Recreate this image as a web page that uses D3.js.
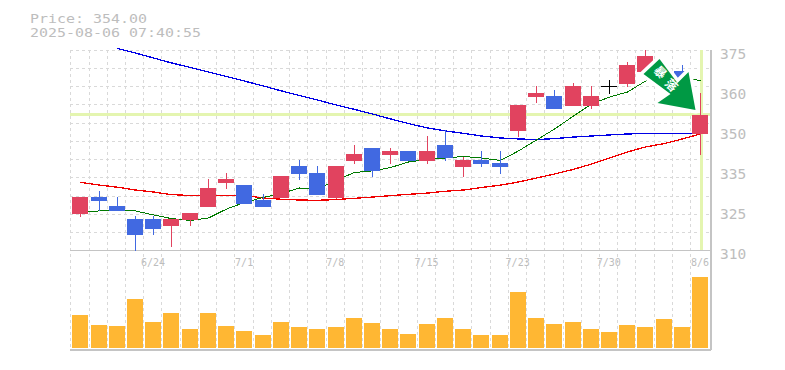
<!DOCTYPE html>
<html>
<head>
<meta charset="utf-8">
<script src="https://cdn.jsdelivr.net/npm/d3@7"></script>
<style>
html,body{margin:0;padding:0;background:#fff;overflow:hidden}
svg{display:block}
text{font-family:"DejaVu Sans Mono",monospace}
</style>
</head>
<body>
<svg id="chart" width="785" height="370"></svg>
<script>
const dates=["6/18","6/19","6/20","6/23","6/24","6/25","6/26","6/27","6/30","7/1","7/2","7/3","7/4","7/7","7/8","7/9","7/10","7/11","7/14","7/15","7/16","7/17","7/18","7/22","7/23","7/24","7/25","7/28","7/29","7/30","7/31","8/1","8/4","8/5","8/6"];
const dateTicks=["6/24","7/1","7/8","7/15","7/23","7/30","8/6"];
const priceTicks=[375,362,349,336,323,310];
const priceLabels=["375","360","350","335","325","310"];
const gridPrices=[375,369.1,363.2,357.3,351.4,345.5,339.5,333.6,327.7,321.8,315.9,310];
const lastPrice=354;
const header=["Price: 354.00","2025-08-06 07:40:55"];
const signalText=["暴","落"];

const opens =[321.7,327.2,324.3,320.1,320.1,317.8,319.75,324,331.8,331.1,326.25,326.9,337.3,335,326.9,338.9,343.15,340.9,342.2,338.9,344.1,337,339.25,338.3,348.7,359.7,360.05,356.8,356.8,363.3,363.95,367.85,364.6,368.2,347.7];
const closes=[327.2,325.9,322.7,314.9,316.8,320.1,322,330.15,333.1,324.95,324,334.05,334.7,327.9,337.3,341.2,335.7,342.2,338.9,342.2,339.9,339.25,337.95,337,357.1,361,355.8,363.3,360.05,363.3,370.1,373.05,366.55,362,354];
const highs =[327.2,329.2,327.2,321.05,321.05,320.1,322,333.1,335,331.1,328.2,334.05,339.25,337.3,337.3,344.1,343.15,343.15,342.2,347.05,349,340.2,342.2,342.2,357.1,363.3,362,364.3,363.3,365.25,371.1,375,367.85,370.1,361];
const lows  =[320.7,322.7,322.7,309.7,314.9,311,317.8,324,329.8,324.95,324,326.9,332.75,327.9,326.6,337.95,333.7,337.95,338.9,337.95,338.9,333.7,337,334.7,346.7,357.8,355.8,356.8,355.8,360.7,363,367.85,363.3,362,340.9];

const maShort=[322.35,322.7,323.2,322.7,321.4,320.2,319.6,320.4,323.3,325.45,327.1,328.4,330.15,329.7,332.75,335.2,335.7,336.8,338.6,339.4,339.9,340.4,339.9,339.1,342.2,345.75,349.3,353.55,357.45,359.7,361.35,364.9,367.85,366.2,365];
const maLong =[null,null,375.5,374,372.4,370.8,369.3,367.85,366.4,364.9,363.3,361.7,360.2,358.75,357.1,355.7,354.2,352.6,351.1,349.65,348.7,347.9,347.05,346.4,346.1,345.9,346.2,346.7,347.05,347.4,347.7,347.9,347.9,347.9,347.9];
const maMid  =[332,331.1,330.4,329.5,328.85,328,327.7,327.7,327.7,327.7,326.9,326.5,326.25,326.15,326.4,326.8,327.2,327.65,328.1,328.5,329.1,329.5,330.3,331.1,332.1,333.4,334.7,336.2,337.95,339.9,341.85,343.5,344.6,346.1,347.7];
const volumes=[33,23,22,49,26,35,19,35,22,17,13,26,21,19,21,30,25,19,14,24,30,19,13,13,56,30,24,26,19,16,23,21,29,21,71];

const svg=d3.select("#chart");
const x=d3.scaleBand().domain(dates).range([70.3,708.4]).paddingInner(0).paddingOuter(0).align(0);
const y=d3.scaleLinear().domain([310,375]).range([250,50]);
const yv=d3.scaleLinear().domain([0,98]).range([348,250]);
const bodyW=16, inset=2;
const cx=d=>Math.round(x(d)+inset+bodyW/2)+0.5;
const red="#e1435f", blue="#4169e1", orange="#ffb733", gridC="#d9d9d9", frame="#c4c4c4", textC="#bdbdbd", hl="#e4f5b0";

// grid
const g=svg.append("g").attr("shape-rendering","crispEdges");
g.selectAll("line.v").data(dates).join("line").attr("class","v")
 .attr("x1",d=>Math.round(x(d))+0.5).attr("x2",d=>Math.round(x(d))+0.5)
 .attr("y1",50).attr("y2",350).attr("stroke",gridC).attr("stroke-dasharray","3 3");
g.selectAll("line.h").data(gridPrices).join("line").attr("class","h")
 .attr("x1",70).attr("x2",710).attr("y1",d=>Math.round(y(d))+0.5).attr("y2",d=>Math.round(y(d))+0.5)
 .attr("stroke",gridC).attr("stroke-dasharray","3 3");

// highlight lines
g.append("line").attr("x1",70).attr("x2",710).attr("y1",y(lastPrice)).attr("y2",y(lastPrice)).attr("stroke",hl).attr("stroke-width",3);
g.append("line").attr("x1",cx(dates[34])+0.5).attr("x2",cx(dates[34])+0.5).attr("y1",50).attr("y2",250).attr("stroke",hl).attr("stroke-width",3);

// frame
g.append("line").attr("x1",70).attr("x2",710).attr("y1",250.5).attr("y2",250.5).attr("stroke",frame).attr("stroke-width",1.5);
g.append("line").attr("x1",70).attr("x2",711).attr("y1",349.5).attr("y2",349.5).attr("stroke",frame).attr("stroke-width",2);
g.append("line").attr("x1",710.5).attr("x2",710.5).attr("y1",50).attr("y2",350).attr("stroke",frame).attr("stroke-width",2);

// volume
g.selectAll("rect.vol").data(volumes).join("rect").attr("class","vol")
 .attr("x",(d,i)=>Math.round(x(dates[i])+inset)).attr("width",bodyW)
 .attr("y",d=>yv(d)).attr("height",d=>yv(0)-yv(d)).attr("fill",orange);

// moving averages
const lineOf=d3.line().defined(d=>d[1]!=null).x(d=>cx(d[0])).y(d=>y(d[1]));
[[maLong,"#0000e6",1.3],[maMid,"#f00000",1.3],[maShort,"#007a00",1]].forEach(([s,c,w])=>{
  svg.append("path").attr("d",lineOf(dates.map((k,i)=>[k,s[i]])))
   .attr("fill","none").attr("stroke",c).attr("stroke-width",w).attr("shape-rendering","crispEdges");
});

// candles
const candles=svg.append("g").attr("shape-rendering","crispEdges");
const colour=i=>closes[i]===opens[i]?"#000":(closes[i]>opens[i]?red:blue);
dates.forEach((k,i)=>{
  candles.append("line").attr("x1",cx(k)).attr("x2",cx(k)).attr("y1",y(highs[i])).attr("y2",y(lows[i])).attr("stroke",colour(i));
  const top=y(Math.max(opens[i],closes[i])), bot=y(Math.min(opens[i],closes[i]));
  if(bot-top<0.5){
    candles.append("line").attr("x1",Math.round(x(k)+inset)).attr("x2",Math.round(x(k)+inset)+bodyW).attr("y1",top).attr("y2",top).attr("stroke",colour(i));
  }else{
    candles.append("rect").attr("x",Math.round(x(k)+inset)).attr("width",bodyW).attr("y",top).attr("height",bot-top).attr("fill",colour(i));
  }
});

// axes
const yAxis=d3.axisRight(y).tickValues(priceTicks).tickSize(0).tickPadding(0).tickFormat((d,i)=>priceLabels[i]);
const ya=svg.append("g").attr("transform","translate(720,0)").call(yAxis);
ya.select(".domain").remove();
ya.selectAll("text").attr("font-size",14.5).attr("fill",textC).attr("dy",0).attr("y",8).style("font-family",'"DejaVu Sans Mono",monospace');

const xAxis=d3.axisBottom(d3.scalePoint().domain(dates).range([cx(dates[0]),cx(dates[34])])).tickValues(dateTicks).tickSize(0).tickPadding(0);
const xa=svg.append("g").attr("transform","translate(-1,0)").call(xAxis);
xa.select(".domain").remove();
xa.selectAll("text").attr("font-size",10).attr("fill",textC).attr("dy",0).attr("y",266).style("font-family",'"DejaVu Sans Mono",monospace');

// header
const headerWidths=[117,171];
svg.selectAll("text.hd").data(header).join("text").attr("class","hd")
 .attr("x",30).attr("y",(d,i)=>23+i*14).attr("font-size",12.8).attr("fill",textC)
 .attr("textLength",(d,i)=>headerWidths[i]).attr("lengthAdjust","spacingAndGlyphs").text(d=>d);

// signal arrow, placed relative to the last candle
const ax=cx(dates[34])-5, ay=y(lastPrice)-4.6;
const arrowShape=[[-36,-51],[-52,-36],[-25,-16],[-38,-7],[0,0],[-7,-38],[-18,-27]];
const arrowPts=arrowShape.map(p=>[ax+p[0],ay+p[1]].join(",")).join(" ");
svg.append("polygon").attr("points",arrowPts).attr("fill","#fff").attr("stroke","#fff").attr("stroke-width",7).attr("stroke-linejoin","round");
svg.append("polygon").attr("points",arrowPts).attr("fill","#009944");
const signalPos=[[-36,-37],[-25,-24]];
svg.selectAll("text.sig").data(signalText).join("text").attr("class","sig")
 .attr("transform",(d,i)=>`translate(${ax+signalPos[i][0]},${ay+signalPos[i][1]}) rotate(45)`)
 .attr("text-anchor","middle").attr("dominant-baseline","middle")
 .attr("font-size",12).attr("font-weight",700).attr("fill","#fff")
 .style("font-family",'"Noto Sans CJK JP"').text(d=>d);
</script>
</body>
</html>
